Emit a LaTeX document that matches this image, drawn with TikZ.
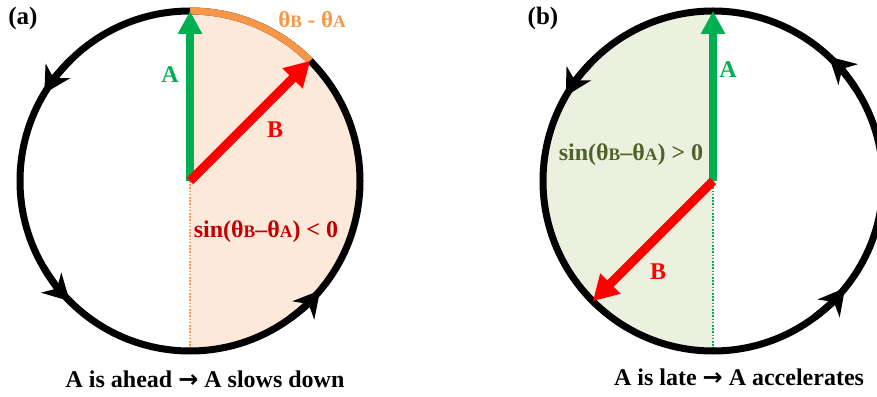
\documentclass[tikz,border=0pt]{standalone}
\usepackage{fontspec}
\setmainfont{Liberation Serif}
\newfontfamily\arrowfont{DejaVu Sans}
\usetikzlibrary{arrows.meta,calc}
\definecolor{agreen}{HTML}{00B050}
\definecolor{bred}{HTML}{FF0000}
\definecolor{arcorange}{HTML}{F79646}
\definecolor{peach}{HTML}{FCE9DA}
\definecolor{palegreen}{HTML}{EBF1DE}
\definecolor{darkred}{HTML}{C00000}
\definecolor{olive}{HTML}{4F6228}
\newcommand{\smc}[1]{{\fontsize{17.5}{17.5}\selectfont #1}}
\newcommand{\thickarrow}{{\arrowfont\bfseries →}}
\begin{document}
\begin{tikzpicture}[x=1pt,y=1pt,
  ring/.style={line width=7pt, draw=black},
  ccwtip/.style={line width=7pt, draw=black, -{Stealth[length=26pt,width=28pt,inset=8pt]}},
  vecA/.style={line width=8pt, draw=agreen, -{Triangle[length=23pt,width=23pt]}},
  vecB/.style={line width=9pt, draw=bred, -{Triangle[length=25pt,width=27pt]}},
  lbl/.style={font=\bfseries\fontsize{24}{28}\selectfont, inner sep=0pt},
  caption/.style={font=\bfseries\fontsize{24}{28}\selectfont, inner sep=0pt, anchor=base},
  panel/.style={font=\bfseries\fontsize{25}{30}\selectfont, inner sep=0pt},
]
\useasboundingbox (0,0) rectangle (877,396);

% ---------------- (a) ----------------
\coordinate (ca) at (190,215);
\coordinate (ca top) at ($(ca)+(90:170)$);
\coordinate (ca bot) at ($(ca)+(270:170)$);
\coordinate (ca B) at ($(ca)+(45:170)$);
\fill[peach] (ca top) arc (90:-90:170) -- cycle;
\draw[arcorange, line width=1.6pt, dash pattern=on 1.6pt off 1.6pt] (ca) -- (ca bot);
\draw[ring] (ca) circle (170);
\foreach \ang in {149,225,320}{
  \draw[ccwtip] ($(ca)+(\ang-14:170)$) arc (\ang-14:\ang:170);
}
\draw[arcorange, line width=7pt] (ca top) arc (90:45:170);
\draw[vecA] (ca) -- (ca top);
\draw[vecB] (ca) -- (ca B);
\node[panel] (pa) at (23,378) {(a)};
\node[lbl, text=arcorange, font=\bfseries\fontsize{23}{26}\selectfont] (dth) at (312,376) {θ\smc{B} - θ\smc{A}};
\node[lbl, text=agreen] (la) at (170,321) {A};
\node[lbl, text=bred] (lb) at (275,266) {B};
\node[lbl, text=darkred] (sa) at (266,164) {sin(θ\smc{B}–θ\smc{A}) < 0};
\node[caption] (capa) at (205,9) {A is ahead \thickarrow{} A slows down};

% ---------------- (b) ----------------
\coordinate (cb) at (713,215);
\coordinate (cb top) at ($(cb)+(90:170)$);
\coordinate (cb bot) at ($(cb)+(270:170)$);
\coordinate (cb B) at ($(cb)+(225:170)$);
\fill[palegreen] (cb top) arc (90:270:170) -- cycle;
\draw[agreen, line width=1.6pt, dash pattern=on 1.6pt off 1.6pt] (cb) -- (cb bot);
\draw[ring] (cb) circle (170);
\foreach \ang in {47,150,321}{
  \draw[ccwtip] ($(cb)+(\ang-14:170)$) arc (\ang-14:\ang:170);
}
\draw[vecA] (cb) -- (cb top);
\draw[vecB] (cb) -- (cb B);
\node[panel] (pb) at (543,378) {(b)};
\node[lbl, text=agreen] (la2) at (728,326) {A};
\node[lbl, text=bred] (lb2) at (658,124) {B};
\node[lbl, text=olive] (sb) at (631,241) {sin(θ\smc{B}–θ\smc{A}) > 0};
\node[caption] (capb) at (739,11) {A is late \thickarrow{} A accelerates};
\end{tikzpicture}
\end{document}
